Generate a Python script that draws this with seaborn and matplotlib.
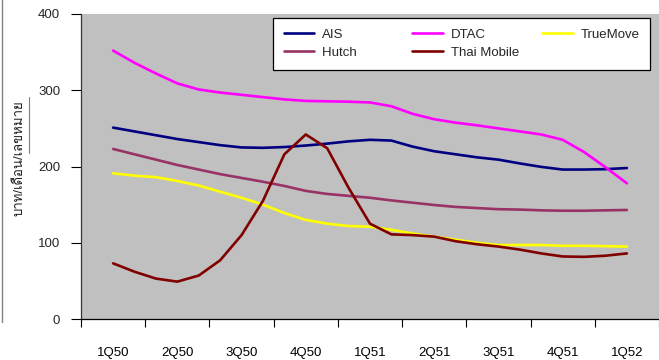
import numpy as np
import pandas as pd
import matplotlib
matplotlib.use("Agg")
import matplotlib.pyplot as plt
import seaborn as sns
from matplotlib import font_manager
from matplotlib.lines import Line2D

# ---------------- data ----------------
quarters = ["1Q50", "2Q50", "3Q50", "4Q50", "1Q51", "2Q51", "3Q51", "4Q51", "1Q52"]
ais = [251, 246, 241, 236, 232, 228, 225, 224.5, 225.5, 227.5, 230, 233, 235,
       234, 226, 220, 216, 212, 209, 204, 199.5, 196, 196, 196.5, 198]
dtac = [352, 336, 322, 309, 301, 297, 294, 291, 288, 286, 285.5, 285, 284,
        279, 269, 262, 257.5, 254, 250, 246, 242, 235, 219, 199, 178]
truemove = [191, 188, 186, 181, 175, 167, 159, 150, 139, 130, 125, 122, 121,
            117, 112, 108, 104, 100, 97, 97, 97, 96, 96, 95.5, 95]
hutch = [223, 216, 209, 202, 196, 190, 185, 180, 174.5, 168, 164, 161.5, 159,
         155.5, 152.5, 149.5, 147, 145.5, 144, 143.5, 142.5, 142, 142, 142.5, 143]
thai_mobile = [73, 62, 53, 49, 57, 77, 110, 155, 216, 242, 224, 172, 125,
               111, 110, 108, 102, 98, 95, 91, 86, 82, 81.5, 83, 86]
series_names = ["AIS", "DTAC", "TrueMove", "Hutch", "Thai Mobile"]
series_vals = [ais, dtac, truemove, hutch, thai_mobile]
colors = {"AIS": "#000080", "DTAC": "#FF00FF", "TrueMove": "#FFFF00",
          "Hutch": "#993366", "Thai Mobile": "#800000"}
ylabel = "บาท/เดือน/เลขหมาย"

# month index -> position in quarter units
month_pos = np.arange(len(ais)) / 3.0
rows = []
for name, vals in zip(series_names, series_vals):
    for p, v in zip(month_pos, vals):
        rows.append({"x": p, "value": v, "op": name})
df = pd.DataFrame(rows)

# ---------------- fonts ----------------
sns.set_theme(style="white")
thai_font = None
try:
    from fontTools.ttLib import TTFont
    for f in font_manager.fontManager.ttflist:
        try:
            tt = TTFont(f.fname, fontNumber=0, lazy=True)
            cmap = tt.getBestCmap()
            if cmap and 0x0E1A in cmap and 0x0E40 in cmap:
                thai_font = f.name
                break
        except Exception:
            pass
except Exception:
    pass
fam = ["Liberation Sans", "DejaVu Sans"]
if thai_font:
    fam = ["Liberation Sans", thai_font, "DejaVu Sans"]
plt.rcParams["font.family"] = fam

# ---------------- figure ----------------
fig = plt.figure(figsize=(6.59, 3.60), dpi=100)
fig.patch.set_facecolor("white")
ax = fig.add_axes([81 / 659, 1 - 319 / 360, 1 - 81 / 659, (319 - 14) / 360])
ax.set_facecolor("#C0C0C0")

sns.lineplot(data=df, x="x", y="value", hue="op", hue_order=series_names,
             palette=colors, linewidth=1.9, ax=ax, legend=True)

ax.set_xlim(-0.5, 8.5)
ax.set_ylim(0, 400)
ax.set_yticks([0, 100, 200, 300, 400])
ax.set_xticks(range(len(quarters)))
ax.set_xticklabels(quarters)
ax.set_xticks(np.arange(-0.5, 8.6, 1.0), minor=True)
ax.tick_params(axis="x", which="major", length=0, pad=20, labelsize=9.5, colors="black")
ax.tick_params(axis="x", which="minor", length=6, width=0.8, color="black", bottom=True)
ax.tick_params(axis="y", which="major", length=7, width=0.8, pad=8, labelsize=9.5,
               left=True, color="black")
ax.set_xlabel("")
ax.set_ylabel("")
for s in ["top", "right"]:
    ax.spines[s].set_visible(False)
ax.spines["left"].set_color("#333333")
ax.spines["left"].set_linewidth(0.9)
ax.spines["bottom"].set_color("black")
ax.spines["bottom"].set_linewidth(0.9)
ax.grid(False)

# legend (3 columns: AIS/Hutch, DTAC/Thai Mobile, TrueMove)
h, l = ax.get_legend_handles_labels()
hm = dict(zip(l, h))
order = ["AIS", "Hutch", "DTAC", "Thai Mobile", "TrueMove"]
shown = ["AIS", "Hutch" + " " * 9, "DTAC", "Thai Mobile", "TrueMove"]
if ax.get_legend():
    ax.get_legend().remove()
leg = fig.legend([hm[k] for k in order], shown, ncol=3, loc="upper left",
                 bbox_to_anchor=(273 / 659, 1 - 18 / 360, (650 - 273) / 659, 0.0),
                 mode="expand", frameon=True, fancybox=False, framealpha=1,
                 edgecolor="black", fontsize=9.5, handlelength=2.3,
                 handletextpad=0.6, borderpad=0.8, labelspacing=0.45,
                 columnspacing=1.3, borderaxespad=0)
leg.get_frame().set_linewidth(0.9)
for line in leg.get_lines():
    line.set_linewidth(1.9)

fig.text(20 / 659, 1 - 158 / 360, ylabel, rotation=90, ha="center", va="center",
         fontsize=9.5, color="#222222")
fig.add_artist(Line2D([29 / 659, 29 / 659], [1 - 97 / 360, 1 - 153 / 360],
                      color="#808080", linewidth=0.8))
fig.add_artist(Line2D([1.5 / 659, 1.5 / 659], [1.0, 1 - 322 / 360],
                      color="#808080", linewidth=1.0))

fig.savefig("out.png", dpi=100)
